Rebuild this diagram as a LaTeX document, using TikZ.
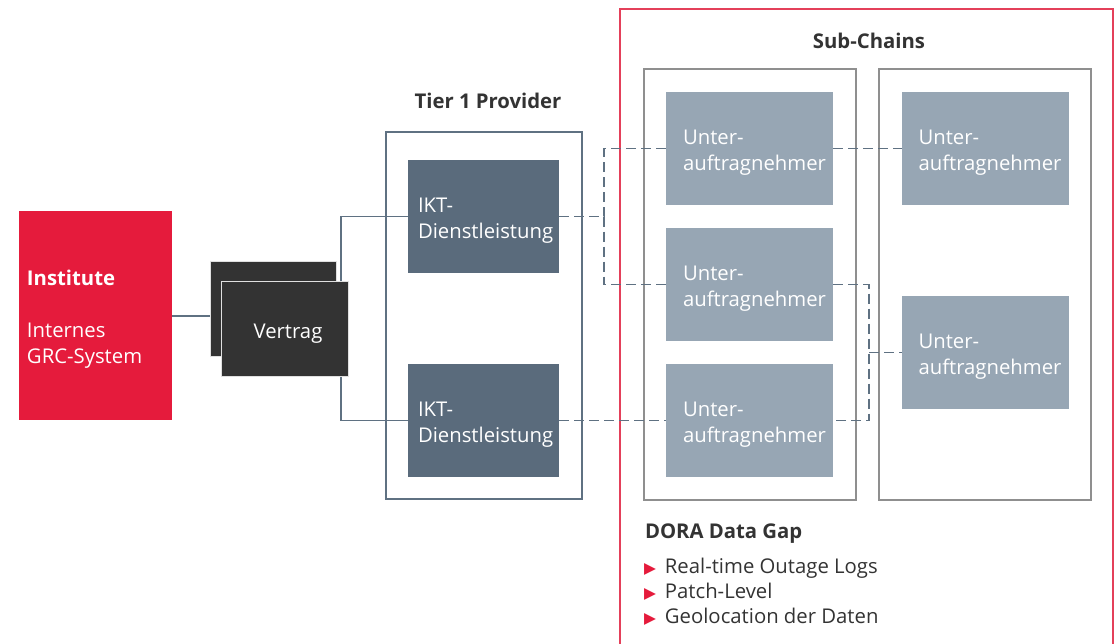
\documentclass[tikz,border=0pt]{standalone}
\usepackage{fontspec}
\setmainfont{Open Sans}
\newfontfamily\symf{DejaVu Sans}
\usetikzlibrary{calc}
\definecolor{brandred}{HTML}{E51B3C}
\definecolor{slate}{HTML}{5A6B7C}
\definecolor{steel}{HTML}{97A6B4}
\definecolor{ink}{HTML}{333333}
\definecolor{wire}{HTML}{5F7182}
\definecolor{framegray}{HTML}{8F8F8F}
\definecolor{redline}{HTML}{E4405A}

\newcommand{\gapbullet}{{\color{brandred}\symf\fontsize{15.5}{25}\selectfont ▶}\hspace{9pt}}

\begin{document}
\begin{tikzpicture}[x=1pt,y=-1pt,
  every node/.style={inner sep=0pt, outer sep=0pt},
  txt/.style={font=\fontsize{20.3}{26}\selectfont},
  blk/.style 2 args={rectangle, minimum width=#1, minimum height=#2},
  ikt/.style={blk={151pt}{113pt}, fill=slate},
  sub/.style={blk={167pt}{113pt}, fill=steel},
  boxtext/.style={txt, text=white, align=left, text width=#1, yshift=-4.5pt},
  vbox/.style={blk={126pt}{95pt}, fill=ink, draw=white!88!black, line width=1pt},
  chain/.style={blk={212pt}{431pt}, draw=framegray, line width=1.1pt},
  title/.style={font=\fontsize{20.3}{24}\selectfont\bfseries, text=ink},
  item/.style={font=\fontsize{20.3}{25}\selectfont, text=ink, anchor=base west},
  solidwire/.style={draw=wire, line width=1.2pt},
  dashwire/.style={draw=wire, line width=1.3pt, dash pattern=on 10pt off 5pt},
]
\useasboundingbox (0,0) rectangle (1114,643);

% outer frame around the sub-chains (open at the bottom)
\draw[redline, line width=1.1pt] (620,650) -- (620,9) -- (1113,9) -- (1113,650);

% titles
\node[title] (subtitle) at (869,41) {Sub-Chains};
\node[title] (tiertitle) at (488,101) {Tier 1 Provider};

% frames
\node[blk={196pt}{367pt}, draw=wire, line width=1.1pt] (tier) at (484,315.5) {};
\node[chain] (chainL) at (750,284.5) {};
\node[chain] (chainR) at (985,284.5) {};

% service boxes
\node[ikt] (ikt1) at (483.5,216.5) {};
\node[ikt] (ikt2) at (483.5,420.5) {};
\node[boxtext=131pt] (ikt1t) at (ikt1) {IKT-\\Dienstleistung};
\node[boxtext=131pt] (ikt2t) at (ikt2) {IKT-\\Dienstleistung};

% subcontractors
\node[sub] (u1) at (749.5,148.5) {};
\node[sub] (u2) at (749.5,284.5) {};
\node[sub] (u3) at (749.5,420.5) {};
\node[sub] (r1) at (985,148.5) {};
\node[sub] (r2) at (985,352.5) {};
\foreach \b in {u1,u2,u3,r1,r2}
  \node[boxtext=133pt] (\b t) at (\b) {Unter-\\auftragnehmer};

% institute
\node[blk={153pt}{209pt}, fill=brandred] (inst) at (95.5,315.5) {};
\node[boxtext=137pt, yshift=0.5pt] (instt) at (inst) {\textbf{Institute}\\[26pt]Internes\\GRC-System};

% contract bracket to both services (runs behind the contract cards)
\coordinate (bus) at (341,0);
\draw[solidwire] (ikt1.west) -- (ikt1.west -| bus) -- (ikt2.west -| bus) -- (ikt2.west);

% contract cards
\node[vbox] (vback) at (273,308.5) {};
\node[vbox, minimum width=127pt] (vfront) at (284.5,328.5) {};
\node[txt, text=white] (vlabel) at (288,333.5) {Vertrag};

% institute to contract
\draw[solidwire] (inst.east |- 0,316) -- (vback.west |- 0,316);

% dashed supply-chain links
\coordinate (jl) at (604,0);
\coordinate (jr) at (869,0);
\draw[dashwire] (ikt1.east) -- (ikt1.east -| jl) |- (u1.west);
\draw[dashwire] (ikt1.east -| jl) |- (u2.west);
\draw[dashwire] (ikt2.east) -- (u3.west);
\draw[dashwire] (u1.east) -- (r1.west);
\draw[dashwire] (u2.east) -- (u2.east -| jr) |- (u3.east);
\draw[dashwire] (r2.west -| jr) -- (r2.west);

% data gap list
\node[title, anchor=base west] (gap) at (645,538) {DORA Data Gap};
\node[item] (g1) at (644,573) {\gapbullet Real-time Outage Logs};
\node[item] (g2) at (644,598) {\gapbullet Patch-Level};
\node[item] (g3) at (644,623) {\gapbullet Geolocation der Daten};
\end{tikzpicture}
\end{document}
